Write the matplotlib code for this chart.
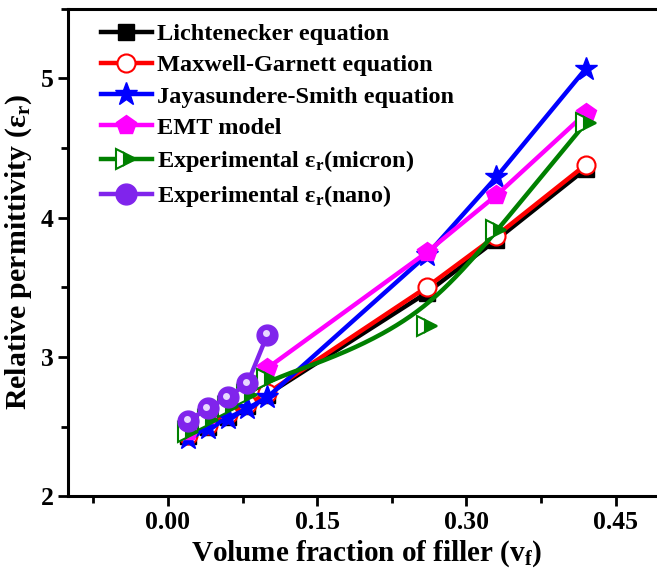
import numpy as np
import matplotlib
matplotlib.use('Agg')
import matplotlib.pyplot as plt
from matplotlib.ticker import MultipleLocator

plt.rcParams['font.family'] = ['Liberation Serif', 'DejaVu Serif']
plt.rcParams['font.weight'] = 'bold'
plt.rcParams['axes.labelweight'] = 'bold'
plt.rcParams['mathtext.fontset'] = 'custom'
plt.rcParams['mathtext.rm'] = 'Liberation Serif:bold'
plt.rcParams['mathtext.bf'] = 'Liberation Serif:bold'
plt.rcParams['mathtext.it'] = 'Liberation Serif:bold'

# data
vf = [0.02, 0.04, 0.06, 0.08, 0.10, 0.26, 0.33, 0.42]
vf_nano = [0.02, 0.04, 0.06, 0.08, 0.10]
lichtenecker = [2.43, 2.50, 2.57, 2.65, 2.73, 3.46, 3.84, 4.35]
maxwell_garnett = [2.44, 2.51, 2.59, 2.66, 2.74, 3.50, 3.87, 4.38]
jayasundere = [2.42, 2.49, 2.56, 2.63, 2.71, 3.73, 4.29, 5.07]
emt = [2.47, 2.58, 2.69, 2.80, 2.92, 3.75, 4.16, 4.75]
exp_micron = [2.46, 2.55, 2.64, 2.73, 2.84, 3.22, 3.91, 4.68]
exp_nano = [2.54, 2.63, 2.71, 2.81, 3.16]


def bspline(xs, ys, degree=3, num=300):
    """Clamped B-spline using the points as control points (Origin style)."""
    xs = np.asarray(xs, float)
    ys = np.asarray(ys, float)
    n = len(xs)
    inner = np.linspace(0, 1, n - degree + 1)
    knots = np.concatenate([[0] * degree, inner, [1] * degree])
    t = np.linspace(0, 1, num)
    t[-1] -= 1e-9
    B = np.zeros((num, len(knots) - 1))
    for i in range(len(knots) - 1):
        B[:, i] = (knots[i] <= t) & (t < knots[i + 1])
    for k in range(1, degree + 1):
        Bn = np.zeros((num, len(knots) - 1 - k))
        for i in range(len(knots) - 1 - k):
            d1 = knots[i + k] - knots[i]
            d2 = knots[i + k + 1] - knots[i + 1]
            a = (t - knots[i]) / d1 * B[:, i] if d1 > 0 else 0
            b = (knots[i + k + 1] - t) / d2 * B[:, i + 1] if d2 > 0 else 0
            Bn[:, i] = a + b
        B = Bn
    return B @ xs, B @ ys


fig = plt.figure(figsize=(6.57, 5.73), dpi=100)
ax = fig.add_axes([0.104, 0.134, 0.909, 0.851])

lw = 3.2
ax.plot(vf, lichtenecker, color='black', lw=lw, marker='s', ms=11,
        label='Lichtenecker equation', zorder=3)
ax.plot(vf, maxwell_garnett, color='red', lw=lw, marker='o', ms=13,
        mfc='white', mec='red', mew=1.5, label='Maxwell-Garnett equation', zorder=4)
ax.plot(vf, jayasundere, color='blue', lw=lw, marker='*', ms=17,
        label='Jayasundere-Smith equation', zorder=5)
ax.plot(vf, emt, color='magenta', lw=lw, marker='p', ms=15,
        label='EMT model', zorder=6)

green = '#008000'
sx, sy = bspline(vf, exp_micron)
ax.plot(sx, sy, color=green, lw=lw, zorder=7)
ax.plot(vf, exp_micron, ls='none', marker='>', ms=14, color=green,
        fillstyle='right', mfc=green, mfcalt='white', mec=green, mew=1.5, zorder=7)
h_micron, = ax.plot([], [], color=green, lw=lw, marker='>', ms=14,
                    fillstyle='right', mfc=green, mfcalt='white', mec=green, mew=1.5)

purple = '#8024EC'
ax.plot(vf_nano, exp_nano, color=purple, lw=lw, marker='o', ms=15,
        mec=purple, zorder=8)
# glossy highlight on the spheres
ax.plot(np.array(vf_nano) - 0.0012, np.array(exp_nano) + 0.012, ls='none',
        marker='o', ms=5, mfc='#E8D8FF', mec='none', zorder=9)
h_nano, = ax.plot([], [], color=purple, lw=lw, marker='o', ms=15, mec=purple)

handles, labels = ax.get_legend_handles_labels()
handles += [h_micron, h_nano]
labels += [r'Experimental ε$_\mathbf{r}$(micron)', r'Experimental ε$_\mathbf{r}$(nano)']
ax.legend(handles, labels, loc='upper left', frameon=False,
          prop={'size': 17.5, 'weight': 'bold'},
          handlelength=2.1, handletextpad=0.2, labelspacing=0.38,
          borderaxespad=0.2, bbox_to_anchor=(0.03, 1.0))

ax.set_xlim(-0.1, 0.5)
ax.set_ylim(2, 5.5)
ax.xaxis.set_major_locator(MultipleLocator(0.15))
ax.xaxis.set_minor_locator(MultipleLocator(0.075))
ax.yaxis.set_major_locator(MultipleLocator(1))
ax.yaxis.set_minor_locator(MultipleLocator(0.5))
ax.set_xticks([0.0, 0.15, 0.30, 0.45])
ax.set_xticklabels(['0.00', '0.15', '0.30', '0.45'])
ax.tick_params(which='major', direction='out', length=7, width=2, labelsize=18.5)
ax.tick_params(which='minor', direction='out', length=5, width=2)
for lab in ax.get_xticklabels() + ax.get_yticklabels():
    lab.set_fontweight('bold')
for s in ax.spines.values():
    s.set_linewidth(2.2)

ax.set_xlabel(r'Volume fraction of filler (v$_\mathbf{f}$)', fontsize=21,
              fontweight='bold', labelpad=3)
ax.set_ylabel(r'Relative permittivity (ε$_\mathbf{r}$)', fontsize=21.5,
              fontweight='bold', labelpad=5)

fig.savefig('out.png', dpi=100)
